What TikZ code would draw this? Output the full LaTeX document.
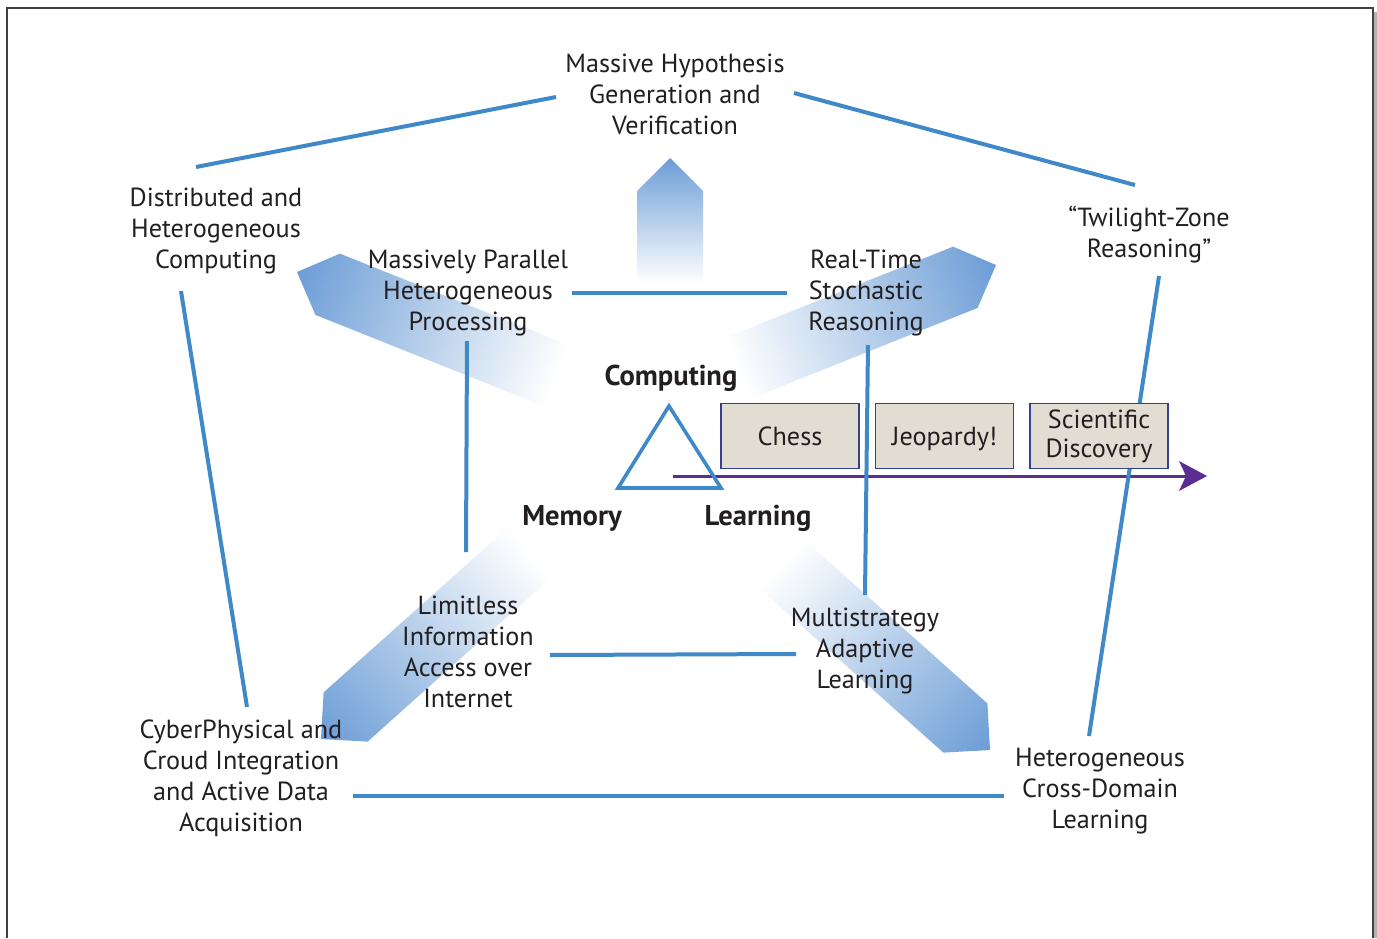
\documentclass[tikz,border=0pt]{standalone}
\usepackage{fontspec}
\setmainfont{PT Sans}
\definecolor{lineblue}{RGB}{64,137,201}
\definecolor{arrowblue}{RGB}{108,157,214}
\definecolor{boxfill}{RGB}{226,221,211}
\definecolor{boxedge}{RGB}{52,64,146}
\definecolor{purp}{RGB}{91,45,144}
\definecolor{textc}{RGB}{35,31,32}
\newcommand{\gradarrow}[4]{%
  \begin{scope}[transform canvas={shift={(#1,#2)}, rotate=#3}]
    \shade[left color=white, right color=arrowblue]
      (-#4,-33) -- (-33,-33) -- (0,0) -- (-33,33) -- (-#4,33) -- cycle;
  \end{scope}}
\begin{document}
\begin{tikzpicture}[x=0.5pt,y=-0.5pt,
  lbl/.style={font=\fontsize{13.1}{15.5}\selectfont, align=center, text=textc, inner sep=0pt},
  blbl/.style={font=\bfseries\fontsize{14.3}{15.5}\selectfont, text=textc, inner sep=0pt},
  link/.style={draw=lineblue, line width=2pt},
  casebox/.style={draw=boxedge, fill=boxfill, line width=0.9pt, minimum width=69pt,
    minimum height=32.5pt, inner sep=0pt, align=center,
    font=\fontsize{13.1}{14.5}\selectfont, text=textc},
  oneline/.style={text height=10.6pt, text depth=1.4pt},
]
\useasboundingbox (0,0) rectangle (1377,938);
\fill[white] (0,0) rectangle (1377,938);
% frame
\fill[black!30] (1374,12) rectangle (1377,938);
\draw[black!75, line width=0.6pt] (7,938) -- (7,8) -- (1373,8) -- (1373,938);

% gradient arrows
\gradarrow{670}{158}{90}{125}
\gradarrow{297}{272}{158.2}{280}
\gradarrow{996}{265}{21.8}{280}
\gradarrow{321}{739}{221.8}{280}
\gradarrow{990}{750}{318.2}{280}

% timeline arrow
\coordinate (ts) at (673,476);
\coordinate (tb) at (1186,476);
\coordinate (tip) at (1207,476);
\draw[purp, line width=1.5pt] (ts) -- (tb);
\fill[purp] (tip) -- (1179,461) -- (tb) -- (1179,491) -- cycle;

% connector end points
\coordinate (a1) at (196,167); \coordinate (a2) at (556,97);
\coordinate (b1) at (794,93);  \coordinate (b2) at (1135,185);
\coordinate (c1) at (181,291); \coordinate (c2) at (247,707);
\coordinate (d1) at (1159,276); \coordinate (d2) at (1089,736);
\coordinate (e1) at (572,293); \coordinate (e2) at (787,293);
\coordinate (f1) at (467,341); \coordinate (f2) at (466,552);
\coordinate (g1) at (868,345); \coordinate (g2) at (865,595);
\coordinate (h1) at (550,655); \coordinate (h2) at (796,654);
\coordinate (k1) at (353,796); \coordinate (k2) at (1004,796);
\draw[link] (a1) -- (a2);
\draw[link] (b1) -- (b2);
\draw[link] (c1) -- (c2);
\draw[link] (d1) -- (d2);
\draw[link] (e1) -- (e2);
\draw[link] (f1) -- (f2);
\draw[link] (g1) -- (g2);
\draw[link] (h1) -- (h2);
\draw[link] (k1) -- (k2);

% triangle
\coordinate (tt) at (669,406);
\coordinate (tl) at (618,488);
\coordinate (tr) at (721,488);
\draw[lineblue, line width=1.8pt] (tt) -- (tl) -- (tr) -- cycle;

% boxes
\node[casebox, oneline] (chess) at (790,436) {Chess};
\node[casebox, oneline] (jeop) at (944.5,436) {Jeopardy!};
\node[casebox] (sci) at (1099,436) {Scientific\\Discovery};

% labels
\node[lbl] (hyp) at (675,94) {Massive Hypothesis\\Generation and\\Verification};
\node[lbl] (dist) at (216,231) {Distributed and\\Heterogeneous\\Computing};
\node[lbl] (twil) at (1149,235) {“Twilight-Zone\\Reasoning”};
\node[lbl] (mpp) at (468,293) {Massively Parallel\\Heterogeneous\\Processing};
\node[lbl] (rts) at (866,293) {Real-Time\\Stochastic\\Reasoning};
\node[blbl] (comp) at (671,378) {Computing};
\node[blbl] (mem) at (572,518) {Memory};
\node[blbl] (learn) at (758,518) {Learning};
\node[lbl] (lim) at (468,652) {Limitless\\Information\\Access over\\Internet};
\node[lbl] (msal) at (865,650.5) {Multistrategy\\Adaptive\\Learning};
\node[lbl] (cyber) at (241,778) {CyberPhysical and\\Croud Integration\\and Active Data\\Acquisition};
\node[lbl] (hcdl) at (1100,791.5) {Heterogeneous\\Cross-Domain\\Learning};
\end{tikzpicture}
\end{document}
